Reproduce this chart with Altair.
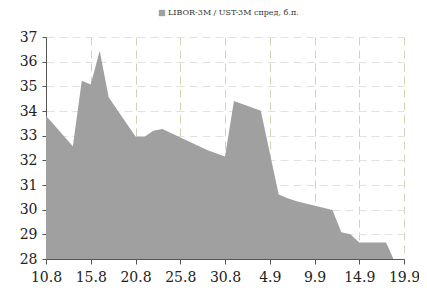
import json
import altair as alt
import pandas as pd

# day offset from 10.8
days = [0, 3, 4, 5, 6, 7, 10, 11, 12, 13, 18, 20, 21, 24, 26, 27, 28, 32, 33, 34, 35, 38, 39]
values = [33.81, 32.57, 35.23, 35.07, 36.44, 34.56, 32.97, 32.96, 33.2, 33.27, 32.42, 32.16,
          34.41, 34.01, 30.61, 30.46, 30.34, 29.99, 29.08, 29.0, 28.67, 28.67, 27.85]
tick_days = [0, 5, 10, 15, 20, 25, 30, 35, 40]
tick_labels = ["10.8", "15.8", "20.8", "25.8", "30.8", "4.9", "9.9", "14.9", "19.9"]
series_name = "LIBOR-3M / UST-3M спред, б.п."

df = pd.DataFrame({"day": days, "value": values, "series": series_name})

label_expr = json.dumps(tick_labels) + "[round(datum.value/5)]"
FONT = "DejaVu Serif"

chart = alt.Chart(df).mark_area(clip=True, opacity=1).encode(
    x=alt.X("day:Q",
            scale=alt.Scale(domain=[0, 40], nice=False, zero=False),
            axis=alt.Axis(values=tick_days, labelExpr=label_expr, title=None,
                          grid=True, gridColor="#d2d2b4", gridDash=[8, 5], gridWidth=1,
                          domainColor="#555555", tickColor="#555555", tickSize=5,
                          labelPadding=6, labelFont=FONT, labelFontSize=14,
                          labelColor="#222222", labelFlush=False)),
    y=alt.Y("value:Q",
            scale=alt.Scale(domain=[28, 37], nice=False, zero=False),
            axis=alt.Axis(values=list(range(28, 38)), title=None,
                          grid=True, gridColor="#e2e2dc", gridDash=[8, 5], gridWidth=1,
                          domainColor="#555555", tickColor="#555555", tickSize=4,
                          labelPadding=5, labelFont=FONT, labelFontSize=14,
                          labelColor="#222222")),
    y2=alt.datum(28),
    color=alt.Color("series:N", scale=alt.Scale(range=["#a0a0a0"]),
                    legend=alt.Legend(orient="none", legendX=112, legendY=-28, title=None,
                                      symbolType="square", symbolSize=40,
                                      symbolStrokeWidth=0, labelFont=FONT,
                                      labelFontSize=8, labelColor="#333333",
                                      labelOffset=2)),
).properties(
    width=358, height=222,
    autosize=alt.AutoSizeParams(type="none"),
    padding={"left": 38, "top": 29, "right": 15, "bottom": 24},
).configure_view(stroke=None)

chart.save("out.html", embed_options={"renderer": "svg", "actions": False})
